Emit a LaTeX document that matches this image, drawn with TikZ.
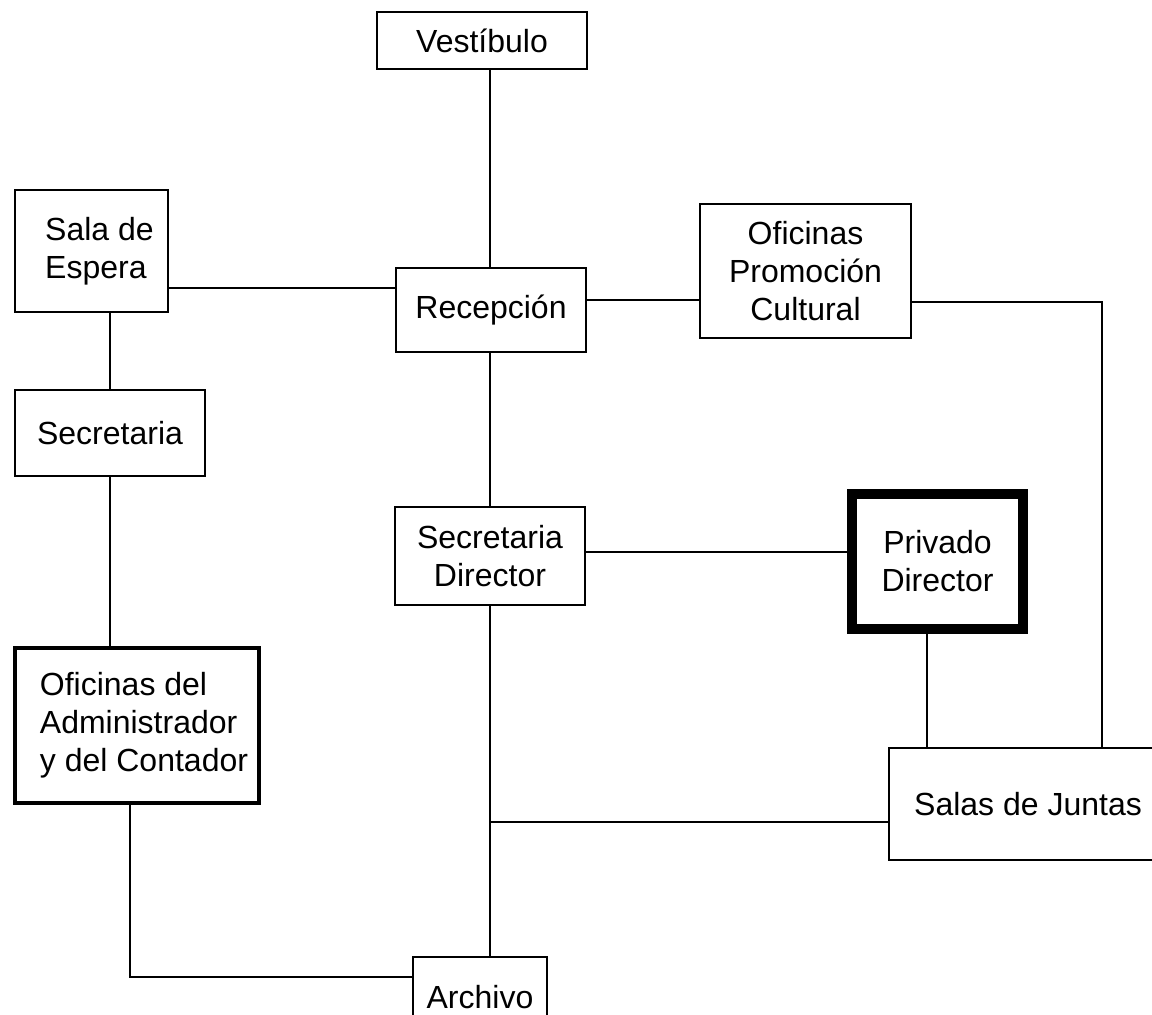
\documentclass[tikz,border=0pt]{standalone}
\usepackage{fontspec}
\setmainfont{Liberation Sans}
\begin{document}
\begin{tikzpicture}[x=1pt,y=-1pt,
  box/.style={draw, line width=2pt, rectangle, inner sep=0pt, outer sep=0pt,
    align=center, font=\fontsize{32}{38}\selectfont},
  thickbox/.style={box, line width=4pt},
  heavybox/.style={box, line width=10pt},
  link/.style={line width=2pt}]
\useasboundingbox (0,0) rectangle (1152,1015);

\node[box, minimum width=210, minimum height=57] (vest) at (482,40.5) {Vestíbulo};
\node[box, minimum width=153, minimum height=122, align=left] (sala) at (91.5,251)
  {\hspace*{16pt}Sala de\\\hspace*{16pt}Espera};
\node[box, minimum width=190, minimum height=84] (rec) at (491,310) {Recepción};
\node[box, minimum width=211, minimum height=134] (opc) at (805.5,271) {Oficinas\\Promoción\\Cultural};
\node[box, minimum width=190, minimum height=86] (secr) at (110,433) {Secretaria};
\node[box, minimum width=190, minimum height=98] (secdir) at (490,556) {Secretaria\\Director};
\node[heavybox, minimum width=171, minimum height=135] (priv) at (937.5,561.5) {Privado\\Director};
\node[thickbox, minimum width=244, minimum height=155, align=left] (admin) at (137,725.5)
  {\hspace*{14pt}Oficinas del\\\hspace*{14pt}Administrador\\\hspace*{14pt}y del Contador};
\node[box, minimum width=278, minimum height=112] (salas) at (1028,804) {Salas de Juntas};
\node[box, minimum width=134, minimum height=80] (arch) at (480,997) {Archivo};

\coordinate (yA) at (0,288);
\coordinate (yB) at (0,300);
\coordinate (yC) at (0,302);
\coordinate (yD) at (0,552);
\coordinate (yF) at (0,977);
\coordinate (xM) at (490,0);
\coordinate (xS) at (110,0);
\coordinate (xR) at (1102,0);
\coordinate (xP) at (927,0);
\coordinate (xA) at (130,0);
\coordinate (jn) at (490,822);

\draw[link] (vest.south -| xM) -- (rec.north -| xM);
\draw[link] (sala.east |- yA) -- (rec.west |- yA);
\draw[link] (rec.east |- yB) -- (opc.west |- yB);
\draw[link] (opc.east |- yC) -| (salas.north -| xR);
\draw[link] (sala.south -| xS) -- (secr.north -| xS);
\draw[link] (secr.south -| xS) -- (admin.north -| xS);
\draw[link] (rec.south -| xM) -- (secdir.north -| xM);
\draw[link] (secdir.east |- yD) -- (priv.west |- yD);
\draw[link] (priv.south -| xP) -- (salas.north -| xP);
\draw[link] (secdir.south -| xM) -- (arch.north -| xM);
\draw[link] (jn) -- (salas.west |- jn);
\draw[link] (admin.south -| xA) -- (xA |- yF) -- (arch.west |- yF);
\end{tikzpicture}
\end{document}
